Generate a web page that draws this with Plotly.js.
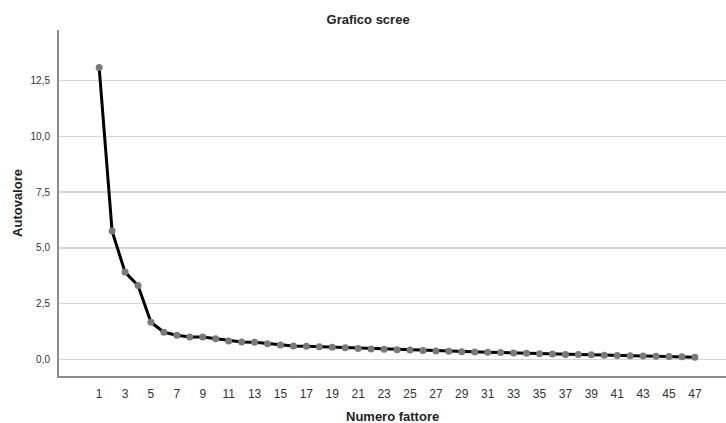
<!DOCTYPE html>
<html>
<head>
<meta charset="utf-8">
<script src="https://cdn.plot.ly/plotly-3.0.1.min.js"></script>
<style>html,body{margin:0;padding:0;background:#fff;}#chart{width:726px;height:423px;}</style>
</head>
<body>
<div id="chart"></div>
<script>
const factors = Array.from({length: 47}, (_, i) => i + 1);
const eigenvalues = [13.09, 5.75, 3.91, 3.31, 1.66, 1.21, 1.08, 1.00, 1.00, 0.92,
  0.82, 0.77, 0.76, 0.70, 0.64, 0.60, 0.58, 0.56, 0.54, 0.52,
  0.48, 0.46, 0.45, 0.43, 0.42, 0.39, 0.37, 0.36, 0.34, 0.33,
  0.31, 0.30, 0.28, 0.27, 0.25, 0.24, 0.22, 0.21, 0.20, 0.18,
  0.17, 0.16, 0.15, 0.14, 0.12, 0.11, 0.09];
const xTicks = factors.filter(f => f % 2 === 1);
const yTicks = [0, 2.5, 5, 7.5, 10, 12.5];
const xTitle = 'Numero fattore';

const trace = {
  x: factors, y: eigenvalues, type: 'scatter', mode: 'lines+markers',
  line: {color: '#000000', width: 3},
  marker: {color: '#7a7a7a', size: 7},
  hoverinfo: 'x+y', cliponaxis: false
};

const layout = {
  width: 726, height: 423,
  margin: {l: 59, r: 0, t: 30, b: 47, pad: 0},
  paper_bgcolor: '#ffffff', plot_bgcolor: '#ffffff',
  separators: ',.',
  font: {family: 'Liberation Sans, Arial, sans-serif', color: '#333333', size: 10},
  title: {text: '<b>Grafico scree</b>', x: 0.507, xanchor: 'center', y: 0.955, yanchor: 'middle', font: {size: 13, color: '#222222'}},
  showlegend: false,
  xaxis: {
    range: [-2.1, 49.4], tickvals: xTicks, ticktext: xTicks.map(String),
    showgrid: false, zeroline: false, showline: true, linecolor: '#8c8c8c', linewidth: 2,
    ticks: '', ticklabelstandoff: 6, tickfont: {size: 12, color: '#333333'}
  },
  yaxis: {
    range: [-0.75, 14.77], tickvals: yTicks, tickformat: '.1f',
    showgrid: true, gridcolor: '#d6d6d6', gridwidth: 1.5, zeroline: false,
    showline: true, linecolor: '#8c8c8c', linewidth: 2, ticks: '',
    ticklabelstandoff: 5,
    tickfont: {size: 10, color: '#333333'},
    title: {text: '<b>Autovalore</b>', standoff: 5, font: {size: 13, color: '#222222'}}
  },
  annotations: [{
    text: '<b>' + xTitle + '</b>', xref: 'paper', yref: 'paper', x: 0.5, y: -0.117,
    xanchor: 'center', yanchor: 'middle', showarrow: false,
    font: {size: 13, color: '#222222'}
  }]
};

Plotly.newPlot('chart', [trace], layout, {displayModeBar: false, staticPlot: true});
</script>
</body>
</html>
